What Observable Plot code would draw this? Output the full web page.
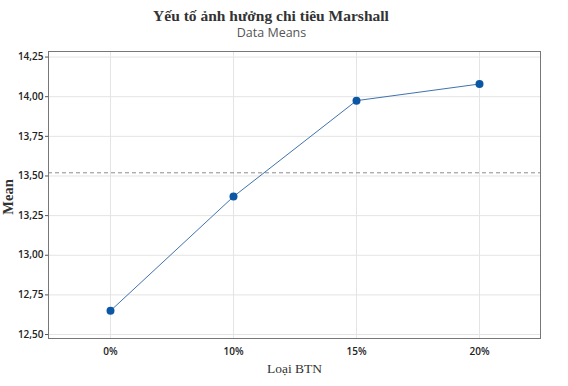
<!DOCTYPE html>
<html>
<head>
<meta charset="utf-8">
<script src="https://cdn.jsdelivr.net/npm/d3@7"></script>
<script src="https://cdn.jsdelivr.net/npm/@observablehq/plot@0.6"></script>
<style>
  body { margin: 0; background: #fff; }
  #wrap { position: relative; width: 568px; height: 386px; overflow: hidden; }
  #title { position: absolute; left: 0; width: 542px; top: 7px; text-align: center;
    font: bold 15.5px "Liberation Serif", "Times New Roman", serif; color: #333; }
  #subtitle { position: absolute; left: 0; width: 543px; top: 24px; text-align: center;
    font: 12.5px "Open Sans", sans-serif; color: #555; }
  #chart { position: absolute; left: 0; top: 0; }
</style>
</head>
<body>
<div id="wrap">
  <div id="chart"></div>
  <div id="title">Yếu tố ảnh hưởng chi tiêu Marshall</div>
  <div id="subtitle">Data Means</div>
</div>
<script>
const categories = ["0%", "10%", "15%", "20%"];
const means = [12.65, 13.37, 13.975, 14.08];
const grandMean = 13.52;
const yTicks = [12.5, 12.75, 13.0, 13.25, 13.5, 13.75, 14.0, 14.25];
const xLabel = "Loại BTN";
const yLabel = "Mean";

const data = categories.map((c, i) => ({cat: c, mean: means[i]}));
const fmt = v => v.toFixed(2).replace(".", ",");

const chart = Plot.plot({
  width: 568,
  height: 386,
  marginLeft: 48,
  marginRight: 28,
  marginTop: 51,
  marginBottom: 48,
  style: {fontFamily: "'Open Sans', sans-serif", fontSize: "10px", color: "#222", background: "#fff"},
  x: {type: "point", domain: categories, padding: 0.5, label: null},
  y: {domain: [12.475, 14.285], label: null},
  marks: [
    Plot.gridX(categories, {stroke: "#e4e4e4", strokeOpacity: 1, strokeWidth: 1}),
    Plot.gridY(yTicks, {stroke: "#e4e4e4", strokeOpacity: 1, strokeWidth: 1}),
    Plot.ruleY([grandMean], {stroke: "#8c8c8c", strokeWidth: 1, strokeDasharray: "4,3"}),
    Plot.axisY(yTicks, {tickFormat: fmt, tickSize: 3, tickPadding: 2, stroke: "#555", fill: "#222", fontWeight: 600, label: null}),
    Plot.axisX(categories, {tickSize: 0, tickPadding: 9, fill: "#222", fontWeight: 600, label: null}),
    Plot.frame({stroke: "#777", strokeWidth: 1}),
    Plot.line(data, {x: "cat", y: "mean", stroke: "#3f73ad", strokeWidth: 1}),
    Plot.dot(data, {x: "cat", y: "mean", r: 4, fill: "#0b57a3", stroke: "none"}),
    Plot.text([yLabel], {frameAnchor: "left", textAnchor: "middle", lineAnchor: "middle", dx: -40, dy: 2, rotate: -90, text: d => d,
      fontFamily: "'Liberation Serif', serif", fontWeight: "bold", fontSize: 14.5, fill: "#333"}),
    Plot.text([xLabel], {frameAnchor: "bottom", textAnchor: "middle", lineAnchor: "middle", dy: 30, text: d => d,
      fontFamily: "'Liberation Serif', serif", fontSize: 13.5, fill: "#333"})
  ]
});
document.getElementById("chart").appendChild(chart);
</script>
</body>
</html>
